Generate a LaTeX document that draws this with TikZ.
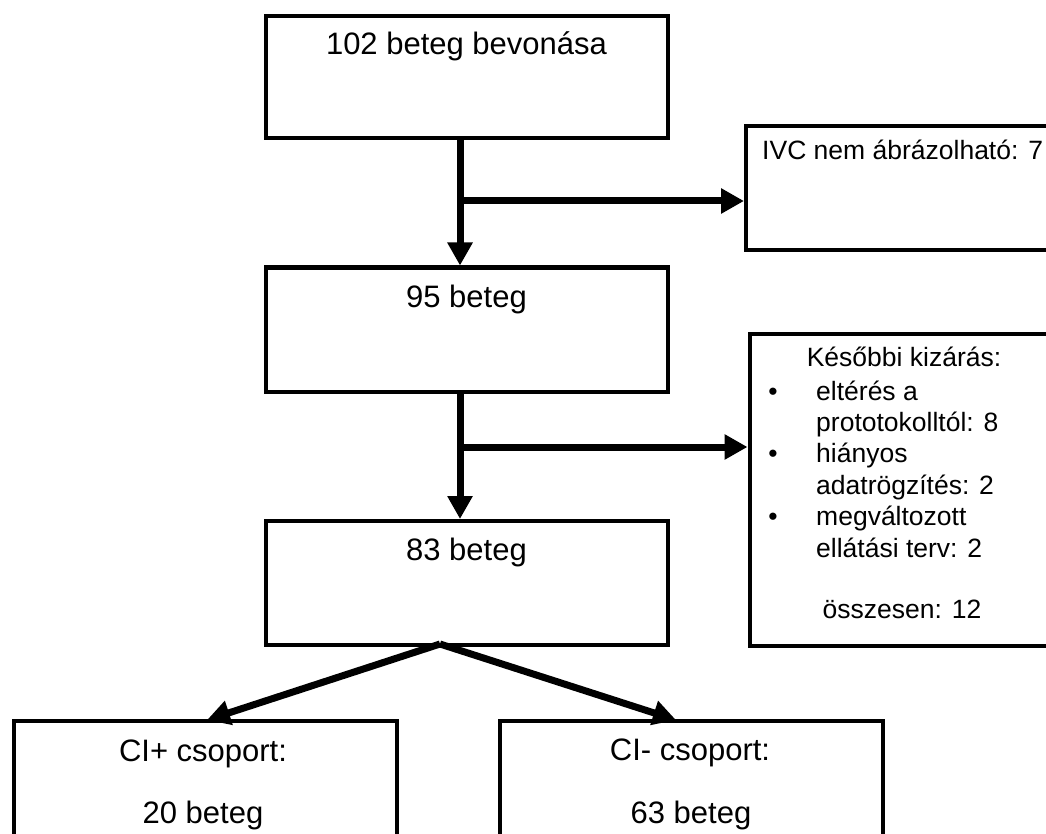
\documentclass[tikz,border=0pt]{standalone}
\usepackage{fontspec}
\setmainfont{Liberation Sans}
\usetikzlibrary{arrows.meta}
\tikzset{
  box/.style={draw=black, line width=4pt, rectangle, inner sep=0pt, fill=white},
  bigtxt/.style={anchor=base, inner sep=0pt, font=\fontsize{31}{36}\selectfont},
  smalltxt/.style={anchor=base, inner sep=0pt, font=\fontsize{26.5}{31}\selectfont},
  arr/.style={line width=7pt, -{Triangle[length=23pt,width=24pt]}},
}
\begin{document}
\begin{tikzpicture}[x=1pt,y=-1pt]
\useasboundingbox (0,0) rectangle (1046,834);
\clip (0,0) rectangle (1046,834);
\fill[white] (0,0) rectangle (1046,834);
% boxes
\node[box, minimum width=402pt, minimum height=122pt] (b1) at (467,77) {};
\node[box, minimum width=402pt, minimum height=124pt] (b2) at (467,329.5) {};
\node[box, minimum width=402pt, minimum height=123.5pt] (b3) at (467,582.75) {};
\node[box, minimum width=320pt, minimum height=123.5pt] (ivc) at (906,188.25) {};
\node[box, minimum width=320pt, minimum height=312.5pt] (exc) at (909.5,489.75) {};
\node[box, minimum width=382.5pt, minimum height=129pt] (cip) at (205.25,785.5) {};
\node[box, minimum width=382.5pt, minimum height=129pt] (cim) at (691.25,785.5) {};
% texts
\node[bigtxt] (t1) at (466.5,55) {102 beteg bevonása};
\node[bigtxt] (t2) at (466.5,307) {95 beteg};
\node[bigtxt] (t3) at (466.5,560) {83 beteg};
\node[smalltxt, anchor=base west] (tivc) at (762,160) {IVC nem ábrázolható: 7};
\node[smalltxt] (e0) at (904,366) {Későbbi kizárás:};
\node[smalltxt] (k1) at (773,400) {•};
\node[smalltxt, anchor=base west] (e1) at (816,400) {eltérés a};
\node[smalltxt, anchor=base west] (e2) at (816,431) {prototokolltól: 8};
\node[smalltxt] (k2) at (773,462) {•};
\node[smalltxt, anchor=base west] (e3) at (816,462) {hiányos};
\node[smalltxt, anchor=base west] (e4) at (816,494) {adatrögzítés: 2};
\node[smalltxt] (k3) at (773,525) {•};
\node[smalltxt, anchor=base west] (e5) at (816,525) {megváltozott};
\node[smalltxt, anchor=base west] (e6) at (816,557) {ellátási terv: 2};
\node[smalltxt] (e7) at (902,618) {összesen: 12};
\node[bigtxt] (c1) at (203,761) {CI+ csoport:};
\node[bigtxt] (c2) at (203,823) {20 beteg};
\node[bigtxt] (c3) at (690,760) {CI- csoport:};
\node[bigtxt] (c4) at (691,823) {63 beteg};
% connectors
\coordinate (j1) at (460,201);
\coordinate (j2) at (460,447);
\coordinate (s3) at (440,644);
\coordinate (t4) at (207,720);
\coordinate (t5) at (676,720);
\draw[arr] (b1.south -| j1) -- (b2.north -| j1);
\draw[arr] (j1) -- (ivc.west |- j1);
\draw[arr] (b2.south -| j2) -- (b3.north -| j2);
\draw[arr] (j2) -- (exc.west |- j2);
\draw[arr] (s3) -- (t4);
\draw[arr] (s3) -- (t5);
\end{tikzpicture}
\end{document}
